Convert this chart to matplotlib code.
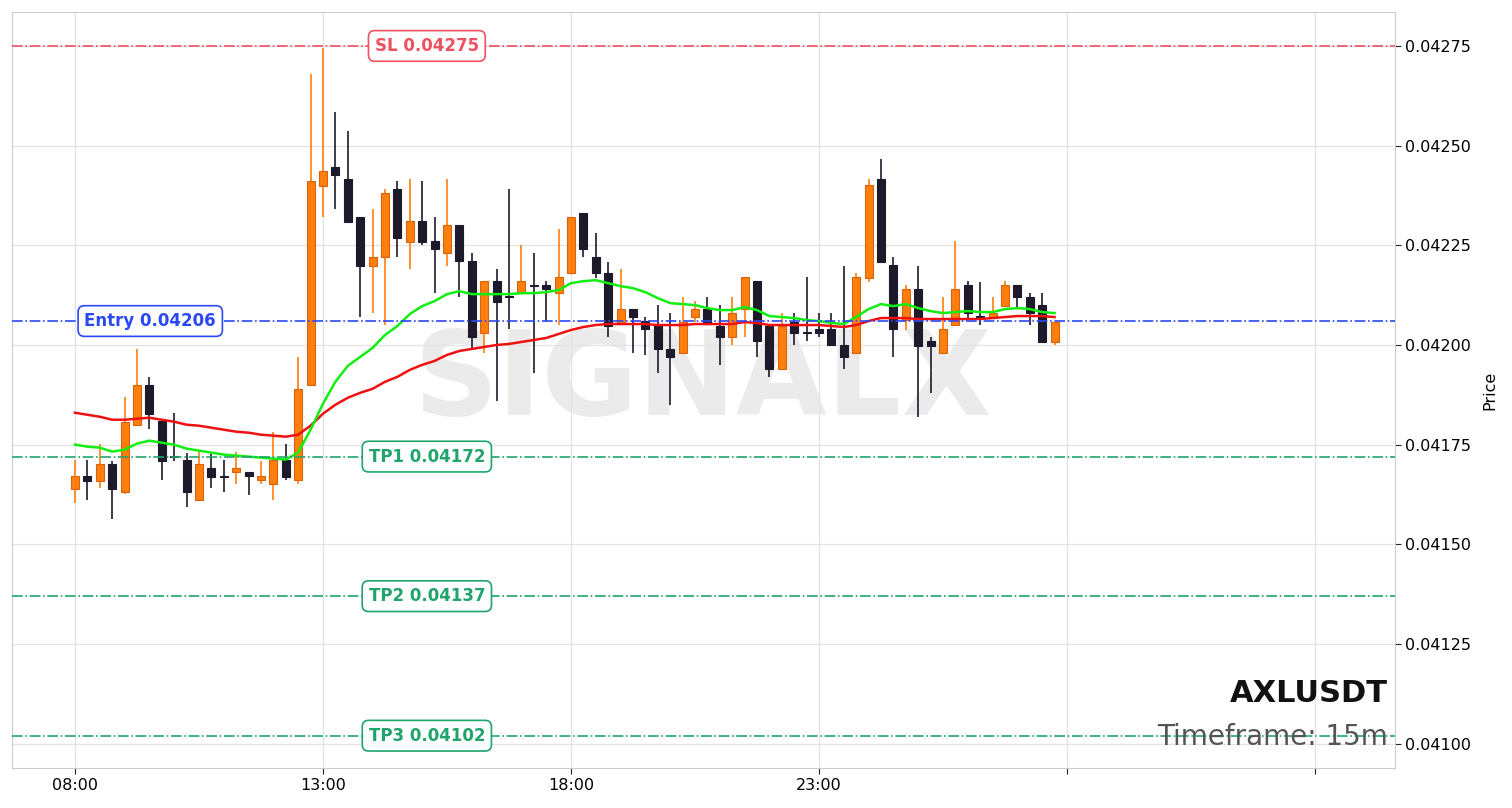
import matplotlib
matplotlib.use("Agg")
import matplotlib.pyplot as plt
import matplotlib.transforms as mtransforms
import numpy as np

symbol = "AXLUSDT"
timeframe = "15m"

# 15m candles from 08:00 onwards
opens = [0.04164, 0.0416725, 0.04166, 0.0417025, 0.04163, 0.0418, 0.0419, 0.04181, 0.0417225, 0.0417125,
         0.04161, 0.0416925, 0.0416725, 0.0416825, 0.0416825, 0.0416625, 0.0416525, 0.0417125, 0.0416625, 0.0419,
         0.0423975, 0.0424475, 0.0424175, 0.04232, 0.0421975, 0.04222, 0.04239, 0.0422575, 0.04231, 0.04226,
         0.04223, 0.0423, 0.04221, 0.04203, 0.04216, 0.0421225, 0.04213, 0.04215, 0.04215, 0.04213,
         0.04218, 0.04233, 0.04222, 0.04218, 0.042055, 0.04209, 0.04206, 0.04205, 0.04199, 0.04198,
         0.04207, 0.04209, 0.0420475, 0.04202, 0.04209, 0.04216, 0.0420475, 0.04194, 0.0420575, 0.0420325,
         0.04204, 0.04204, 0.042, 0.04198, 0.0421675, 0.0424175, 0.0422, 0.0420625, 0.04214, 0.04201,
         0.04198, 0.04205, 0.04215, 0.0420725, 0.04207, 0.0420975, 0.04215, 0.04212, 0.0421, 0.0420075]
highs = [0.0417125, 0.0417125, 0.0417525, 0.04171, 0.04187, 0.04199, 0.04192, 0.041815, 0.04183, 0.04173,
         0.0417325, 0.0417275, 0.0417125, 0.0417325, 0.0416825, 0.04171, 0.0417825, 0.0417525, 0.04197, 0.04268,
         0.042745, 0.042585, 0.0425375, 0.04232, 0.04234, 0.04239, 0.04241, 0.0424175, 0.04241, 0.04232,
         0.0424175, 0.0423, 0.04223, 0.04216, 0.04219, 0.04239, 0.04225, 0.04223, 0.04216, 0.04229,
         0.04232, 0.04233, 0.04228, 0.0422075, 0.04219, 0.04209, 0.04207, 0.0421, 0.04208, 0.04212,
         0.04211, 0.04212, 0.0421, 0.04212, 0.04217, 0.04216, 0.0420475, 0.04208, 0.04208, 0.04217,
         0.04208, 0.04208, 0.0421975, 0.04218, 0.0424175, 0.0424675, 0.04222, 0.04215, 0.0421975, 0.04202,
         0.04212, 0.04226, 0.04216, 0.0421575, 0.04212, 0.04216, 0.04215, 0.04213, 0.04213, 0.0420575]
lows = [0.0416025, 0.04161, 0.0416425, 0.0415625, 0.041625, 0.0417975, 0.04179, 0.0416625, 0.04171, 0.0415925,
        0.04161, 0.0416425, 0.04163, 0.0416525, 0.0416225, 0.0416525, 0.04161, 0.0416625, 0.0416525, 0.0419,
        0.04232, 0.04234, 0.0423075, 0.04207, 0.04208, 0.04205, 0.04222, 0.04219, 0.04225, 0.04213,
        0.0421975, 0.04212, 0.0419925, 0.04198, 0.04186, 0.04204, 0.04213, 0.04193, 0.04206, 0.04205,
        0.04218, 0.04222, 0.0421675, 0.04202, 0.042055, 0.04198, 0.041975, 0.04193, 0.04185, 0.04198,
        0.0420575, 0.04205, 0.04195, 0.042, 0.04202, 0.04197, 0.04192, 0.04194, 0.042, 0.04201,
        0.04202, 0.042, 0.04194, 0.04198, 0.0421575, 0.0422075, 0.04197, 0.0420375, 0.04182, 0.04188,
        0.04198, 0.04205, 0.0420625, 0.04205, 0.04207, 0.0420975, 0.042095, 0.04205, 0.0420075, 0.042]
closes = [0.0416725, 0.04166, 0.0417025, 0.04164, 0.0418075, 0.0419, 0.0418275, 0.04171, 0.04172, 0.04163,
          0.0417025, 0.04167, 0.04167, 0.0416925, 0.0416725, 0.0416725, 0.0417125, 0.04167, 0.04189, 0.04241,
          0.0424375, 0.0424275, 0.0423075, 0.0421975, 0.04222, 0.04238, 0.0422675, 0.04231, 0.0422575, 0.04224,
          0.0423, 0.04221, 0.04202, 0.04216, 0.0421075, 0.04212, 0.04216, 0.0421475, 0.04214, 0.04217,
          0.04232, 0.04224, 0.04218, 0.0420475, 0.04209, 0.04207, 0.04204, 0.04199, 0.04197, 0.0420575,
          0.04209, 0.0420525, 0.04202, 0.04208, 0.04217, 0.04201, 0.04194, 0.0420475, 0.04203, 0.04203,
          0.04203, 0.042, 0.04197, 0.04217, 0.0424, 0.0422075, 0.04204, 0.04214, 0.0419975, 0.0419975,
          0.04204, 0.04214, 0.04208, 0.0420675, 0.04208, 0.04215, 0.04212, 0.04208, 0.0420075, 0.0420575]

ema_fast = [0.04175, 0.041745, 0.0417425, 0.0417325, 0.0417375, 0.0417525, 0.04176, 0.041755, 0.04175, 0.04174,
            0.041735, 0.04173, 0.041725, 0.0417225, 0.04172, 0.0417175, 0.041715, 0.0417125, 0.04173, 0.0417875,
            0.0418525, 0.0419075, 0.0419475, 0.04197, 0.0419925, 0.042025, 0.0420475, 0.0420775, 0.0420975, 0.04211,
            0.0421275, 0.042135, 0.0421275, 0.0421275, 0.0421275, 0.0421275, 0.04213, 0.04213, 0.0421325, 0.0421375,
            0.042155, 0.04216, 0.0421625, 0.042155, 0.0421475, 0.0421425, 0.0421325, 0.0421175, 0.042105, 0.0421025,
            0.0421, 0.0420925, 0.0420875, 0.0420875, 0.042095, 0.0420875, 0.0420725, 0.04207, 0.0420675, 0.0420625,
            0.04206, 0.042055, 0.0420525, 0.04207, 0.04209, 0.0421025, 0.0420975, 0.0421025, 0.0420925, 0.042085,
            0.04208, 0.0420825, 0.042085, 0.0420825, 0.0420825, 0.04209, 0.0420925, 0.04209, 0.0420825, 0.04208]
ema_slow = [0.04183, 0.041825, 0.04182, 0.0418125, 0.0418125, 0.041815, 0.0418175, 0.0418125, 0.0418075, 0.0418,
            0.0417975, 0.0417925, 0.0417875, 0.0417825, 0.04178, 0.041775, 0.0417725, 0.04177, 0.041775, 0.0417975,
            0.0418275, 0.04185, 0.0418675, 0.04188, 0.04189, 0.0419075, 0.04192, 0.0419375, 0.04195, 0.04196,
            0.041975, 0.041985, 0.04199, 0.041995, 0.042, 0.0420025, 0.0420075, 0.0420125, 0.0420175, 0.0420275,
            0.0420375, 0.042045, 0.04205, 0.0420525, 0.0420525, 0.0420525, 0.0420525, 0.04205, 0.04205, 0.04205,
            0.0420525, 0.0420525, 0.0420525, 0.0420525, 0.0420575, 0.042055, 0.04205, 0.04205, 0.04205, 0.04205,
            0.04205, 0.0420475, 0.042045, 0.04205, 0.04206, 0.0420675, 0.0420675, 0.0420675, 0.042065, 0.042065,
            0.042065, 0.042065, 0.042065, 0.042065, 0.0420675, 0.04207, 0.0420725, 0.0420725, 0.0420725, 0.04207]

level_names = ["SL", "Entry", "TP1", "TP2", "TP3"]
level_prices = [0.04275, 0.04206, 0.04172, 0.04137, 0.04102]
level_colors = ["#f0505f", "#2b48f5", "#20a46c", "#20a46c", "#20a46c"]
level_label_x = [0.30, 0.10, 0.30, 0.30, 0.30]

xtick_pos = [0, 20, 40, 60, 80, 100]
xtick_labels = ["08:00", "13:00", "18:00", "23:00", "", ""]
ytick_vals = [0.04100, 0.04125, 0.04150, 0.04175, 0.04200, 0.04225, 0.04250, 0.04275]

UP = "#ff7f0e"
UP_EDGE = "#d9620a"
DOWN = "#1f1a2b"

o = np.array(opens)
h = np.array(highs)
l = np.array(lows)
c = np.array(closes)
x = np.arange(len(o))
up = c >= o

fig = plt.figure(figsize=(15.12, 8.08), dpi=100)
ax = fig.add_axes([0.0079, 0.0495, 0.9147, 0.9356])

ax.text(0.5, 0.51, "SIGNALX", transform=ax.transAxes, fontsize=84.5, fontweight="bold",
        color="#d9d9d9", alpha=0.5, ha="center", va="center", zorder=0)

# wicks and bodies
ax.vlines(x[up], l[up], h[up], color=UP, linewidth=1.2, zorder=2)
ax.vlines(x[~up], l[~up], h[~up], color=DOWN, linewidth=1.2, zorder=2)
body_lo = np.minimum(o, c)
body_h = np.maximum(np.abs(c - o), 0.0000025)
ax.bar(x[up], body_h[up], bottom=body_lo[up], width=0.65, color=UP,
       edgecolor=UP_EDGE, linewidth=0.8, zorder=3)
ax.bar(x[~up], body_h[~up], bottom=body_lo[~up], width=0.65, color=DOWN,
       edgecolor=DOWN, linewidth=0.8, zorder=3)

ax.plot(x, ema_slow, color="#ee1111", linewidth=1.8, zorder=4)
ax.plot(x, ema_fast, color="#11ee11", linewidth=1.8, zorder=4)

trans = mtransforms.blended_transform_factory(ax.transAxes, ax.transData)
for name, price, col, lx in zip(level_names, level_prices, level_colors, level_label_x):
    ax.axhline(price, color=col, linestyle="-.", linewidth=1.2, zorder=5)
    ax.text(lx, price, f"{name} {price:.5f}", transform=trans, ha="center", va="center",
            fontsize=12, fontweight="bold", color=col, zorder=6,
            bbox=dict(boxstyle="round,pad=0.38", facecolor="white", edgecolor=col, linewidth=1.2))

ax.set_xlim(-5.08, 106.45)
ax.set_ylim(0.040939, 0.042835)
ax.set_xticks(xtick_pos)
ax.set_xticklabels(xtick_labels)
ax.set_yticks(ytick_vals)
ax.set_yticklabels([f"{v:.5f}" for v in ytick_vals])
ax.yaxis.tick_right()
ax.yaxis.set_label_position("right")
ax.set_ylabel("Price", fontsize=11.5, labelpad=8)
ax.tick_params(labelsize=11.5, length=4, color="#222222")
ax.grid(True, color="#e3e3e3", linewidth=0.9)
ax.set_axisbelow(True)
for sp in ax.spines.values():
    sp.set_color("#cccccc")

ax.text(0.995, 0.099, symbol, transform=ax.transAxes, ha="right", va="center",
        fontsize=22, fontweight="bold", color="#111111", zorder=7)
ax.text(0.995, 0.041, f"Timeframe: {timeframe}", transform=ax.transAxes, ha="right", va="center",
        fontsize=20, color="#555555", zorder=7)

fig.savefig("out.png", dpi=100)
